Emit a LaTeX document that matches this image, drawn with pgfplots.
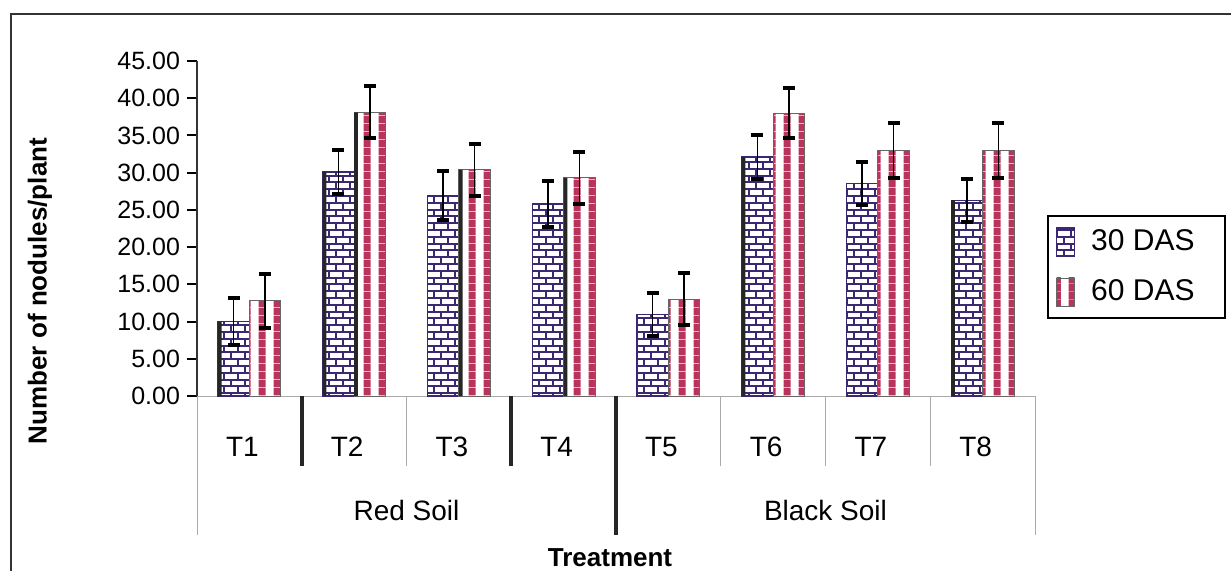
\documentclass[border=0pt]{standalone}
\usepackage{pgfplots}
\pgfplotsset{compat=1.18}
\usepackage{pgfplotstable}
\usepackage{fontspec}
\setmainfont{Liberation Sans}
\usetikzlibrary{patterns}
\definecolor{brick}{RGB}{58,40,115}
\definecolor{stripe}{RGB}{184,52,92}
\definecolor{sep}{RGB}{170,170,170}
\pgfdeclarepatternformonly{mybricks}{\pgfqpoint{-1pt}{-1pt}}{\pgfqpoint{8pt}{8pt}}{\pgfqpoint{7pt}{6.8pt}}{%
 \pgfsetlinewidth{1.0pt}%
 \pgfpathmoveto{\pgfqpoint{-0.5pt}{0pt}}\pgfpathlineto{\pgfqpoint{7.5pt}{0pt}}%
 \pgfpathmoveto{\pgfqpoint{-0.5pt}{3.4pt}}\pgfpathlineto{\pgfqpoint{7.5pt}{3.4pt}}%
 \pgfpathmoveto{\pgfqpoint{0pt}{0pt}}\pgfpathlineto{\pgfqpoint{0pt}{3.4pt}}%
 \pgfpathmoveto{\pgfqpoint{3.5pt}{3.4pt}}\pgfpathlineto{\pgfqpoint{3.5pt}{6.8pt}}%
 \pgfusepath{stroke}}
\pgfdeclarepatternformonly{mystripes}{\pgfqpoint{0pt}{0pt}}{\pgfqpoint{7.5pt}{4pt}}{\pgfqpoint{7.5pt}{4pt}}{%
 \pgfpathrectangle{\pgfqpoint{1.9pt}{-0.1pt}}{\pgfqpoint{3.7pt}{4.2pt}}\pgfusepath{fill}}

\pgfplotstableread{
x a ae b be
0 10.0 3.2 12.8 3.6
1 30.1 3.0 38.1 3.5
2 26.9 3.3 30.4 3.5
3 25.8 3.1 29.3 3.5
4 10.9 2.9 13.0 3.5
5 32.1 3.0 38.0 3.4
6 28.5 2.9 33.0 3.7
7 26.3 2.9 33.0 3.7
}\data
\pgfplotstableread{
x y
0 10.0
1 30.1
5 32.1
7 26.3
}\shadA
\pgfplotstableread{
x y
1 38.1
2 30.4
3 29.3
}\shadB

\begin{document}
\begin{tikzpicture}
\path[use as bounding box] (0,0) rectangle (615.5pt,285pt);
\draw[line width=1pt, black!80] (5.5pt,-1pt) -- (5.5pt,278pt) -- (616pt,278pt);
\begin{axis}[
 at={(98.5pt,87pt)}, anchor=south west,
 scale only axis, width=419pt, height=167.5pt,
 xmin=-0.5, xmax=7.5, ymin=0, ymax=45,
 ytick={0,5,...,45},
 axis x line*=bottom, axis y line*=left,
 axis line style={-},
 x axis line style={sep},
 y axis line style={black!80, line width=0.8pt},
 xtick={0,...,7},
 xticklabels={T1,T2,T3,T4,T5,T6,T7,T8},
 x tick style={draw=none},
 xticklabel style={anchor=center, yshift=-20.5pt, xshift=-3.5pt, font=\fontsize{14}{16}\selectfont},
 y tick style={black, line width=1pt},
 tick align=outside, major tick length=5pt,
 yticklabel style={font=\fontsize{12.5}{14}\selectfont},
 /pgf/number format/.cd, fixed, fixed zerofill, precision=2, assume math mode=true,
 /pgfplots/.cd,
 clip=false,
 legend style={at={(1.0143,0.5403)}, anchor=north west, draw=black, line width=1pt,
   font=\fontsize{15}{18}\selectfont, row sep=9pt, inner xsep=4pt, inner ysep=5pt,
   legend cell align=left},
]
\addplot[ybar, bar width=0.3, bar shift=0pt, draw=brick, line width=0.6pt,
  pattern=mybricks, pattern color=brick,
  legend image code/.code={\draw[pattern=mybricks, pattern color=brick, draw=brick, line width=0.6pt] (0pt,-7pt) rectangle (9pt,7pt);},
  error bars/.cd, y dir=both, y explicit,
  error bar style={black, line width=0.7pt},
  error mark options={rotate=90, black, mark size=3pt, line width=2pt}]
  table[x expr=\thisrow{x}-0.15, y=a, y error=ae] {\data};
\addlegendentry{\hspace{6pt}30 DAS\hspace*{9pt}\null}
\addplot[ybar, bar width=0.3, bar shift=0pt, draw=black!60, line width=0.4pt,
  pattern=mystripes, pattern color=stripe,
  legend image code/.code={\draw[pattern=mystripes, pattern color=stripe, draw=black!60, line width=0.4pt] (0pt,-7pt) rectangle (9pt,7pt);},
  error bars/.cd, y dir=both, y explicit,
  error bar style={black, line width=0.7pt},
  error mark options={rotate=90, black, mark size=3pt, line width=2pt}]
  table[x expr=\thisrow{x}+0.15, y=b, y error=be] {\data};
\addlegendentry{\hspace{6pt}60 DAS\hspace*{9pt}\null}
\addplot[ybar, bar width=0.035, bar shift=0pt, fill=black!85, draw=none, forget plot]
  table[x expr=\thisrow{x}-0.2825, y=y] {\shadA};
\addplot[ybar, bar width=0.035, bar shift=0pt, fill=black!85, draw=none, forget plot]
  table[x expr=\thisrow{x}+0.0175, y=y] {\shadB};
% category table separators
\draw[sep, line width=0.5pt] (axis cs:-0.5,0) -- ([yshift=-69.5pt]axis cs:-0.5,0);
\draw[sep, line width=0.5pt] (axis cs:7.5,0) -- ([yshift=-69.5pt]axis cs:7.5,0);
\draw[black!85, line width=2pt] (axis cs:3.5,0) -- ([yshift=-69.5pt]axis cs:3.5,0);
\draw[black!85, line width=2pt] (axis cs:0.5,0) -- ([yshift=-35pt]axis cs:0.5,0);
\draw[black!85, line width=2pt] (axis cs:2.5,0) -- ([yshift=-35pt]axis cs:2.5,0);
\draw[sep, line width=0.5pt] (axis cs:1.5,0) -- ([yshift=-35pt]axis cs:1.5,0);
\draw[sep, line width=0.5pt] (axis cs:4.5,0) -- ([yshift=-35pt]axis cs:4.5,0);
\draw[sep, line width=0.5pt] (axis cs:5.5,0) -- ([yshift=-35pt]axis cs:5.5,0);
\draw[sep, line width=0.5pt] (axis cs:6.5,0) -- ([yshift=-35pt]axis cs:6.5,0);
\node[font=\fontsize{14}{16}\selectfont] at ([yshift=-57pt]axis cs:1.5,0) {Red Soil};
\node[font=\fontsize{14}{16}\selectfont] at ([yshift=-57pt]axis cs:5.5,0) {Black Soil};
\node[font=\bfseries\fontsize{13}{15}\selectfont] at ([yshift=-81pt, xshift=-3pt]axis cs:3.5,0) {Treatment};
\end{axis}
\node[rotate=90, font=\bfseries\fontsize{13}{15}\selectfont] at (20pt,139.5pt) {Number of nodules/plant};
\end{tikzpicture}
\end{document}
